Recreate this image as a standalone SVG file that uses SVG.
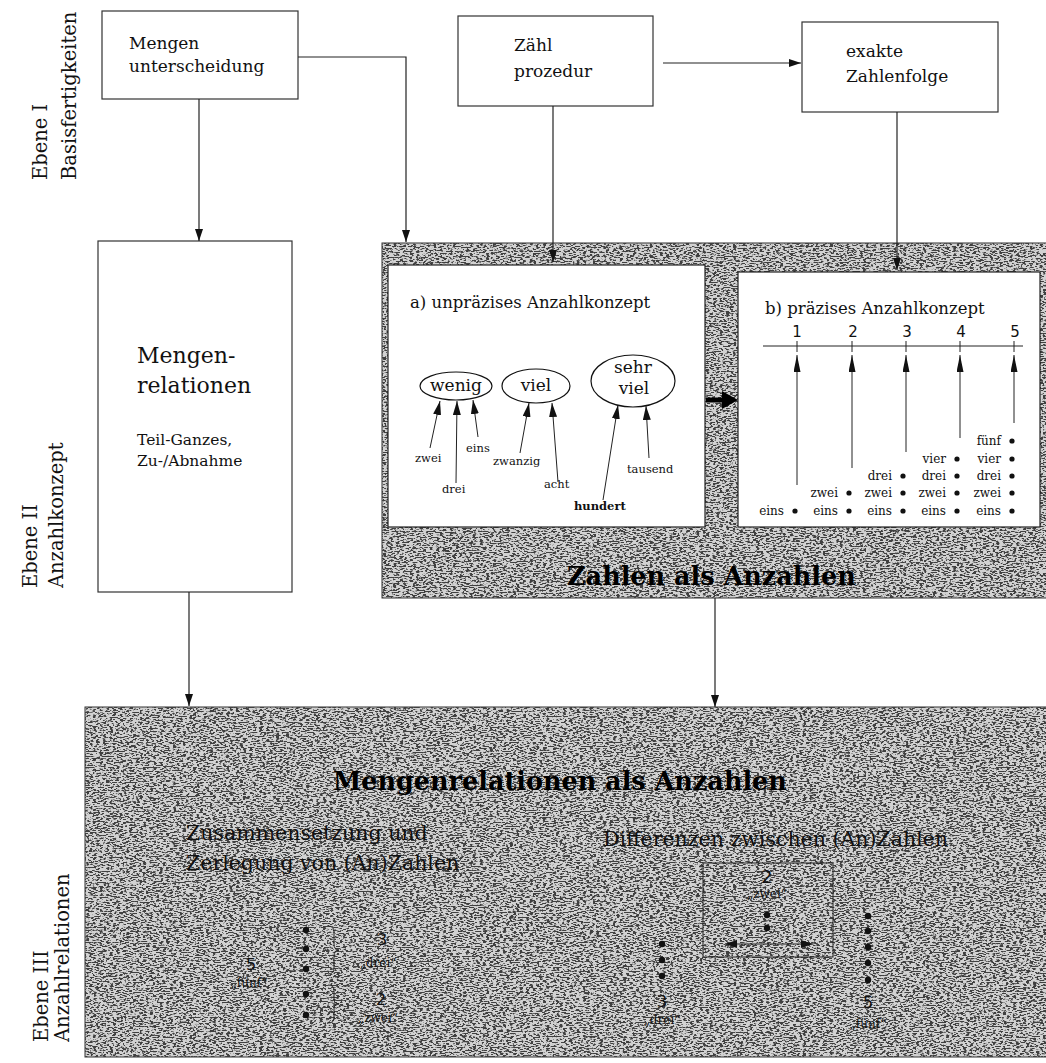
<svg xmlns="http://www.w3.org/2000/svg" width="1046" height="1063" viewBox="0 0 1046 1063">
<style>
  .serif { font-family: "DejaVu Serif", "Liberation Serif", serif; fill: #111; }
  .sans { font-family: "DejaVu Sans", "Liberation Sans", sans-serif; fill: #111; }
  .bold { font-family: "DejaVu Serif", "Liberation Serif", serif; font-weight: bold; fill: #000; }
  .box { fill: #fff; stroke: #333; stroke-width: 1.2; }
  .panel { fill: #fff; stroke: #222; stroke-width: 1.2; }
  .conn { fill: none; stroke: #222; stroke-width: 1.2; }
  .thin { fill: none; stroke: #222; stroke-width: 1; }
  .dot { fill: #111; }
  .grey { fill: #d2d2d2; stroke: #333; stroke-width: 1; }
</style>
<defs>
  <filter id="grain" x="0" y="0" width="1" height="1" color-interpolation-filters="sRGB">
    <feTurbulence type="fractalNoise" baseFrequency="0.3 0.8" numOctaves="2" seed="5" result="t"/>
    <feColorMatrix in="t" type="matrix" values="0 0 0 0 0.25  0 0 0 0 0.25  0 0 0 0 0.25  -10 0 0 0 5.1" result="a"/>
    <feComposite in="a" in2="SourceGraphic" operator="in"/>
  </filter>
  <marker id="ah" viewBox="0 0 12 8" refX="12" refY="4" markerWidth="12" markerHeight="8" markerUnits="userSpaceOnUse" orient="auto">
    <path d="M0,0 L12,4 L0,8 z" fill="#111"/>
  </marker>
  <marker id="ahs" viewBox="0 0 14 8" refX="14" refY="4" markerWidth="14" markerHeight="8" markerUnits="userSpaceOnUse" orient="auto">
    <path d="M0,0 L14,4 L0,8 z" fill="#111"/>
  </marker>
  <marker id="ahl" viewBox="0 0 17 7" refX="17" refY="3.5" markerWidth="17" markerHeight="7" markerUnits="userSpaceOnUse" orient="auto">
    <path d="M0,0 L17,3.5 L0,7 z" fill="#111"/>
  </marker>
  <marker id="ahstart" viewBox="0 0 12 8" refX="0" refY="4" markerWidth="12" markerHeight="8" markerUnits="userSpaceOnUse" orient="auto">
    <path d="M12,0 L0,4 L12,8 z" fill="#111"/>
  </marker>
</defs>

<rect x="0" y="0" width="1046" height="1063" fill="#fff"/>

<!-- Level labels -->
<g id="labels" class="serif" font-size="19.5">
  <text transform="translate(47,180) rotate(-90)">Ebene I</text>
  <text transform="translate(76,180) rotate(-90)">Basisfertigkeiten</text>
  <text transform="translate(37,588) rotate(-90)">Ebene II</text>
  <text transform="translate(63,588) rotate(-90)">Anzahlkonzept</text>
  <text transform="translate(48,1042) rotate(-90)">Ebene III</text>
  <text transform="translate(69,1042) rotate(-90)">Anzahlrelationen</text>
</g>

<!-- Level I nodes -->
<g id="node-mengenunterscheidung">
  <rect class="box" x="102" y="11" width="196" height="88"/>
  <text class="serif" font-size="17" x="129" y="49">Mengen</text>
  <text class="serif" font-size="17" x="129" y="72">unterscheidung</text>
</g>
<g id="node-zaehlprozedur">
  <rect class="box" x="458" y="16" width="195" height="90"/>
  <text class="serif" font-size="17" x="514" y="51">Zähl</text>
  <text class="serif" font-size="17" x="514" y="77">prozedur</text>
</g>
<g id="node-exakte-zahlenfolge">
  <rect class="box" x="802" y="22" width="196" height="90"/>
  <text class="serif" font-size="17" x="846" y="57">exakte</text>
  <text class="serif" font-size="17" x="846" y="82">Zahlenfolge</text>
</g>

<!-- Level II: Mengenrelationen -->
<g id="node-mengenrelationen">
  <rect class="box" x="98" y="241" width="194" height="351"/>
  <text class="serif" font-size="22" x="137" y="363">Mengen-</text>
  <text class="serif" font-size="22" x="137" y="393">relationen</text>
  <text class="serif" font-size="15.5" x="137" y="445">Teil-Ganzes,</text>
  <text class="serif" font-size="15.5" x="137" y="466">Zu-/Abnahme</text>
</g>

<!-- Level II: Zahlen als Anzahlen -->
<g id="node-zahlen-als-anzahlen">
  <rect class="grey" x="382" y="243" width="670" height="355"/>
  <rect x="382" y="243" width="670" height="355" fill="#000" filter="url(#grain)"/>
  <text class="bold" font-size="25.5" x="567" y="585">Zahlen als Anzahlen</text>

  <g id="node-unpraezise">
    <rect class="panel" x="388" y="265" width="317" height="262"/>
    <text class="serif" font-size="16.5" x="410" y="308">a) unpräzises Anzahlkonzept</text>
    <ellipse cx="456" cy="386" rx="36" ry="14" fill="none" stroke="#111" stroke-width="1.2"/>
    <text class="serif" font-size="17" x="456" y="391" text-anchor="middle">wenig</text>
    <ellipse cx="536" cy="386" rx="34" ry="17" fill="none" stroke="#111" stroke-width="1.2"/>
    <text class="serif" font-size="17" x="536" y="391" text-anchor="middle">viel</text>
    <ellipse cx="633" cy="381" rx="42" ry="26" fill="none" stroke="#111" stroke-width="1.2"/>
    <text class="serif" font-size="17" x="633" y="373" text-anchor="middle">sehr</text>
    <text class="serif" font-size="17" x="634" y="394" text-anchor="middle">viel</text>
    <g class="thin">
      <line x1="430" y1="448" x2="440" y2="401" marker-end="url(#ahs)"/>
      <line x1="456" y1="483" x2="457" y2="401" marker-end="url(#ahs)"/>
      <line x1="478" y1="437" x2="473" y2="400" marker-end="url(#ahs)"/>
      <line x1="520" y1="453" x2="529" y2="403" marker-end="url(#ahs)"/>
      <line x1="558" y1="482" x2="552" y2="403" marker-end="url(#ahs)"/>
      <line x1="603" y1="500" x2="618" y2="405" marker-end="url(#ahs)"/>
      <line x1="649" y1="458" x2="646" y2="406" marker-end="url(#ahs)"/>
    </g>
    <g class="serif" font-size="11.5">
      <text x="415" y="462">zwei</text>
      <text x="442" y="493">drei</text>
      <text x="466" y="452">eins</text>
      <text x="493" y="465">zwanzig</text>
      <text x="544" y="488">acht</text>
      <text x="574" y="510" font-weight="bold">hundert</text>
      <text x="627" y="473">tausend</text>
    </g>
  </g>

  <g id="node-praezise">
    <rect class="panel" x="738" y="272" width="302" height="255"/>
    <text class="serif" font-size="16.5" x="765" y="314">b) präzises Anzahlkonzept</text>
    <g class="sans" font-size="15" text-anchor="middle">
      <text x="797" y="337">1</text>
      <text x="853" y="337">2</text>
      <text x="907" y="337">3</text>
      <text x="961" y="337">4</text>
      <text x="1015" y="337">5</text>
    </g>
    <g class="thin">
      <line x1="763" y1="346" x2="1023" y2="346"/>
      <line x1="797" y1="341" x2="797" y2="352"/>
      <line x1="852" y1="341" x2="852" y2="352"/>
      <line x1="906" y1="341" x2="906" y2="352"/>
      <line x1="960" y1="341" x2="960" y2="352"/>
      <line x1="1014" y1="341" x2="1014" y2="352"/>
      <line x1="797" y1="485" x2="797" y2="355" marker-end="url(#ahl)"/>
      <line x1="852" y1="468" x2="852" y2="355" marker-end="url(#ahl)"/>
      <line x1="906" y1="452" x2="906" y2="355" marker-end="url(#ahl)"/>
      <line x1="960" y1="438" x2="960" y2="355" marker-end="url(#ahl)"/>
      <line x1="1014" y1="423" x2="1014" y2="355" marker-end="url(#ahl)"/>
    </g>
    <g class="serif" font-size="12" text-anchor="end">
      <text x="784" y="515">eins</text>
      <text x="838" y="515">eins</text>
      <text x="838" y="497">zwei</text>
      <text x="892" y="515">eins</text>
      <text x="892" y="497">zwei</text>
      <text x="892" y="480">drei</text>
      <text x="946" y="515">eins</text>
      <text x="946" y="497">zwei</text>
      <text x="946" y="480">drei</text>
      <text x="946" y="463">vier</text>
      <text x="1001" y="515">eins</text>
      <text x="1001" y="497">zwei</text>
      <text x="1001" y="480">drei</text>
      <text x="1001" y="463">vier</text>
      <text x="1001" y="445">fünf</text>
    </g>
    <g class="dot">
      <circle cx="795" cy="511" r="2.6"/>
      <circle cx="849" cy="511" r="2.6"/><circle cx="849" cy="493" r="2.6"/>
      <circle cx="903" cy="511" r="2.6"/><circle cx="903" cy="493" r="2.6"/><circle cx="903" cy="476" r="2.6"/>
      <circle cx="957" cy="511" r="2.6"/><circle cx="957" cy="493" r="2.6"/><circle cx="957" cy="476" r="2.6"/><circle cx="957" cy="459" r="2.6"/>
      <circle cx="1012" cy="511" r="2.6"/><circle cx="1012" cy="493" r="2.6"/><circle cx="1012" cy="476" r="2.6"/><circle cx="1012" cy="459" r="2.6"/><circle cx="1012" cy="441" r="2.6"/>
    </g>
  </g>
</g>

<!-- Level III -->
<g id="node-mengenrelationen-als-anzahlen">
  <rect class="grey" x="85" y="707" width="967" height="350"/>
  <rect x="85" y="707" width="967" height="350" fill="#000" filter="url(#grain)"/>
  <text class="bold" font-size="25.5" x="333" y="790">Mengenrelationen als Anzahlen</text>
  <text class="serif" font-size="20.5" x="186" y="840">Zusammensetzung und</text>
  <text class="serif" font-size="20.5" x="186" y="870">Zerlegung von (An)Zahlen</text>
  <text class="serif" font-size="20.5" x="603" y="846">Differenzen zwischen (An)Zahlen</text>

  <g id="zerlegung">
    <g class="dot">
      <circle cx="306" cy="930" r="3.2"/><circle cx="306" cy="949" r="3.2"/><circle cx="306" cy="969" r="3.2"/>
      <circle cx="306" cy="994" r="3.2"/><circle cx="306" cy="1015" r="3.2"/>
    </g>
    <path class="thin" d="M328,926 Q334,926 334,932 L334,944 Q334,950 339,950 Q334,950 334,956 L334,968 Q334,974 328,974"/>
    <path class="thin" d="M328,985 Q334,985 334,990 L334,999 Q334,1004 339,1004 Q334,1004 334,1009 L334,1018 Q334,1023 328,1023"/>
    <text class="sans" font-size="16" x="382" y="945" text-anchor="middle">3</text>
    <text class="serif" font-size="12" x="378" y="967" text-anchor="middle">„drei“</text>
    <text class="sans" font-size="16" x="381" y="1005" text-anchor="middle">2</text>
    <text class="serif" font-size="12" x="378" y="1022" text-anchor="middle">„zwei“</text>
    <text class="sans" font-size="16" x="251" y="970" text-anchor="middle">5</text>
    <text class="serif" font-size="12" x="249" y="987" text-anchor="middle">„fünf“</text>
  </g>

  <g id="differenz">
    <rect x="703" y="863" width="130" height="94" fill="none" stroke="#222" stroke-width="1"/>
    <text class="sans" font-size="17" x="767" y="883" text-anchor="middle">2</text>
    <text class="serif" font-size="12" x="767" y="898" text-anchor="middle">„zwei“</text>
    <circle class="dot" cx="767" cy="915" r="3.2"/>
    <circle class="dot" cx="767" cy="928" r="3.2"/>
    <line class="thin" x1="725" y1="944" x2="813" y2="944" marker-start="url(#ahstart)" marker-end="url(#ah)"/>
    <g class="dot">
      <circle cx="662" cy="944" r="3.2"/><circle cx="662" cy="960" r="3.2"/><circle cx="662" cy="976" r="3.2"/>
      <circle cx="868" cy="916" r="3.2"/><circle cx="868" cy="931" r="3.2"/><circle cx="868" cy="947" r="3.2"/>
      <circle cx="868" cy="963" r="3.2"/><circle cx="868" cy="980" r="3.2"/>
    </g>
    <text class="sans" font-size="16" x="662" y="1007" text-anchor="middle">3</text>
    <text class="serif" font-size="12" x="662" y="1024" text-anchor="middle">„drei“</text>
    <text class="sans" font-size="16" x="868" y="1008" text-anchor="middle">5</text>
    <text class="serif" font-size="12" x="868" y="1028" text-anchor="middle">„fünf“</text>
  </g>
</g>

<!-- Connectors -->
<g id="connectors" class="conn">
  <polyline points="298,57 406,57 406,242" marker-end="url(#ah)"/>
  <line x1="199" y1="99" x2="199" y2="241" marker-end="url(#ah)"/>
  <line x1="553" y1="106" x2="553" y2="262" marker-end="url(#ah)"/>
  <line x1="663" y1="63" x2="801" y2="63" marker-end="url(#ah)"/>
  <line x1="897" y1="112" x2="897" y2="270" marker-end="url(#ah)"/>
  <line x1="189" y1="592" x2="189" y2="706" marker-end="url(#ah)"/>
  <line x1="715" y1="598" x2="715" y2="707" marker-end="url(#ah)"/>
  <line x1="706" y1="400" x2="724" y2="400" stroke="#000" stroke-width="5"/>
  <polygon points="722,391 738,400 722,409" fill="#000" stroke="none"/>
</g>
</svg>
